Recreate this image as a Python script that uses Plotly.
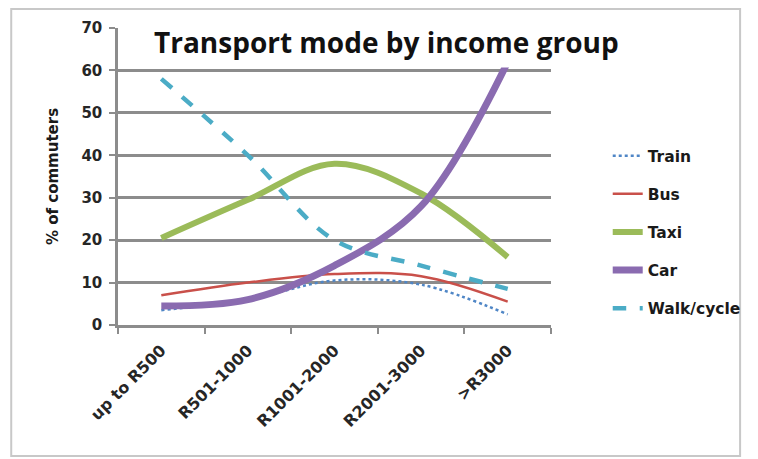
import plotly.graph_objects as go

categories = ["up to R500", "R501-1000", "R1001-2000", "R2001-3000", ">R3000"]
train = [3.5, 6, 10.5, 9.5, 2.5]
bus = [7, 10, 12, 11.5, 5.5]
taxi = [20.5, 29.5, 38, 31, 16]
car = [4.5, 6, 14, 28, 62]
walk = [58, 40, 20, 14, 8.5]

series = [
    ("Train", train, "#4f86c6", 2.5, "dot"),
    ("Bus", bus, "#c9504a", 2.5, "solid"),
    ("Taxi", taxi, "#9bbb59", 6, "solid"),
    ("Car", car, "#8a6bb0", 7, "solid"),
    ("Walk/cycle", walk, "#4bacc6", 4.5, "dash"),
]

fig = go.Figure()
for name, vals, color, w, dash in series:
    fig.add_trace(go.Scatter(
        x=categories, y=vals, name=name, mode="lines",
        line=dict(color=color, width=w, dash=dash, shape="spline", smoothing=1.0),
        legendgroup=name,
    ))

grid = "#8c8c8c"
tf = "DejaVu Sans"
fig.update_layout(
    width=750, height=451,
    margin=dict(l=110, r=198, t=20, b=134),
    paper_bgcolor="white", plot_bgcolor="white",
    font=dict(family=tf, color="#222222"),
    showlegend=True,
    legend=dict(x=1.131, y=0.626, xanchor="left", yanchor="top",
                font=dict(size=15.5, color="#1a1a1a", weight="bold"), tracegroupgap=15,
                bgcolor="rgba(0,0,0,0)"),
    xaxis=dict(type="category", range=[-0.5, 4.5], showgrid=False,
               showline=True, linecolor=grid, linewidth=2.5,
               ticks="outside", tickson="boundaries", ticklen=6, tickcolor=grid, tickwidth=2,
               ticklabelstandoff=7,
               tickangle=-45, tickfont=dict(size=16, weight="bold", color="#262626")),
    yaxis=dict(range=[0, 70], dtick=10, showgrid=True, gridcolor=grid, gridwidth=2.5,
               showline=True, linecolor=grid, linewidth=2.5, zeroline=False,
               ticks="outside", ticklen=6, tickcolor=grid, tickwidth=2,
               ticklabelstandoff=4,
               tickfont=dict(size=15, weight="bold", color="#262626"),
               title=dict(text="% of commuters", font=dict(size=15, weight="bold", color="#1a1a1a"),
                          standoff=20)),
    shapes=[dict(type="rect", xref="paper", yref="paper",
                 x0=-0.2466, x1=1.4367, y0=-0.441, y1=1.064,
                 line=dict(color="#c8c8c8", width=2), layer="below")],
    annotations=[dict(text="<b>Transport mode by income group</b>", xref="paper", yref="paper",
                      x=0.62, y=0.952, xanchor="center", yanchor="middle", showarrow=False,
                      font=dict(size=28, color="#111111", family="Open Sans"),
                      bgcolor="white", borderpad=6)],
)

fig.write_html("out.html")
